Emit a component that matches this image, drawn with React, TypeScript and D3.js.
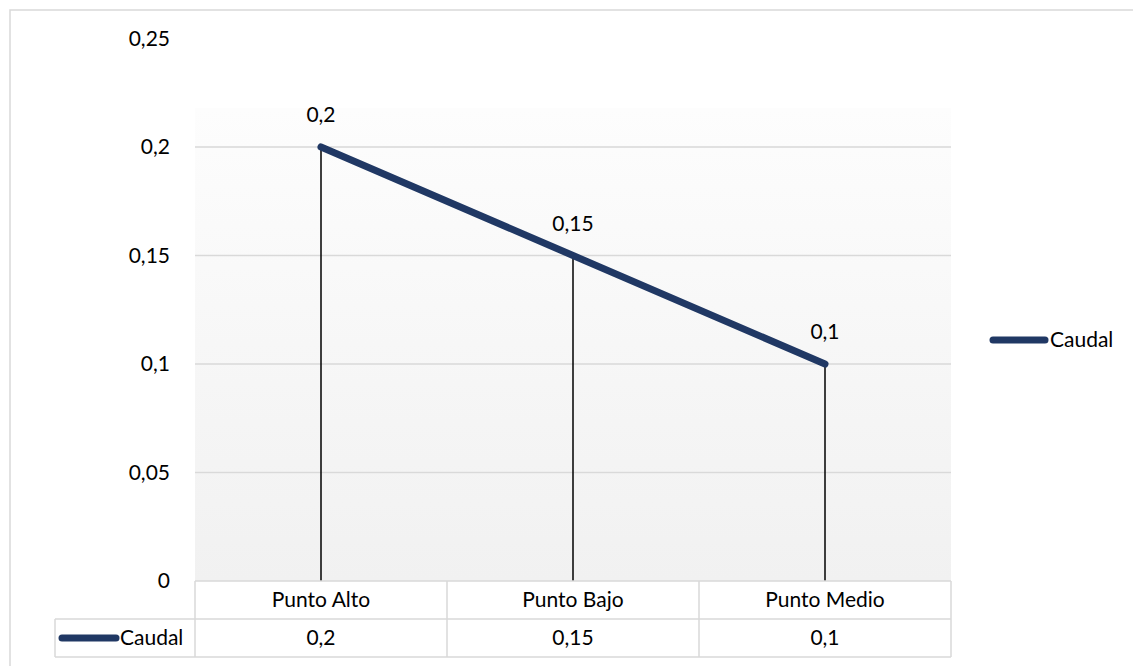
import React from "react";
import * as d3 from "d3";

// Series data
const categories: string[] = ["Punto Alto", "Punto Bajo", "Punto Medio"];
const caudal: number[] = [0.2, 0.15, 0.1];
const seriesName = "Caudal";
const yTicks: number[] = [0, 0.05, 0.1, 0.15, 0.2, 0.25];

const W = 1133;
const H = 666;
const FONT = "Lato, 'Open Sans', sans-serif";
const FS = 21;
const LINE_COLOR = "#203864";
const GRID = "#d9d9d9";

const fmt = (v: number) => String(v).replace(".", ",");

export default function App() {
  // Plot geometry
  const plotLeft = 195;
  const plotRight = 951;
  const plotTop = 108;
  const plotBottom = 581;
  const row1Bottom = 619;
  const row2Bottom = 657;
  const keyLeft = 55;

  const x = d3
    .scaleBand<string>()
    .domain(categories)
    .range([plotLeft, plotRight])
    .padding(0);
  const y = d3.scaleLinear().domain([0, 0.25]).range([plotBottom, 38.5]);

  const cx = (c: string) => (x(c) as number) + x.bandwidth() / 2;
  const pts: [number, number][] = categories.map((c, i) => [cx(c), y(caudal[i])]);
  const line = d3.line<[number, number]>()(pts) as string;

  const colEdges = [plotLeft, ...categories.map((c) => (x(c) as number) + x.bandwidth())];

  return (
    <svg
      width={W}
      height={H}
      style={{ position: "fixed", left: 0, top: 0, display: "block" }}
      fontFamily={FONT}
    >
      <defs>
        <linearGradient id="plotBg" x1="0" y1="0" x2="0" y2="1">
          <stop offset="0" stopColor="#fdfdfd" />
          <stop offset="1" stopColor="#f1f1f1" />
        </linearGradient>
      </defs>
      <rect x={0} y={0} width={W} height={H} fill="#ffffff" />
      {/* chart border */}
      <rect x={10} y={10} width={W + 20} height={H + 20} fill="none" stroke={GRID} strokeWidth={1.5} />

      {/* plot area */}
      <rect
        x={plotLeft}
        y={plotTop}
        width={plotRight - plotLeft}
        height={plotBottom - plotTop}
        fill="url(#plotBg)"
      />

      {/* gridlines */}
      {yTicks
        .filter((t) => t > 0 && y(t) >= plotTop)
        .map((t) => (
          <line
            key={`g${t}`}
            x1={plotLeft}
            x2={plotRight}
            y1={y(t)}
            y2={y(t)}
            stroke={GRID}
            strokeWidth={1.5}
          />
        ))}

      {/* y axis labels */}
      {yTicks.map((t) => (
        <text
          key={`t${t}`}
          x={170}
          y={y(t)}
          dy="0.35em"
          textAnchor="end"
          fontSize={FS}
          fill="#000"
        >
          {fmt(t)}
        </text>
      ))}

      {/* drop lines */}
      {pts.map(([px, py], i) => (
        <line key={`d${i}`} x1={px} x2={px} y1={py} y2={plotBottom} stroke="#000" strokeWidth={1.5} />
      ))}

      {/* series line */}
      <path
        d={line}
        fill="none"
        stroke={LINE_COLOR}
        strokeWidth={7}
        strokeLinecap="round"
        strokeLinejoin="round"
      />

      {/* data labels */}
      {pts.map(([px, py], i) => (
        <text
          key={`l${i}`}
          x={px}
          y={py - 32}
          dy="0.35em"
          textAnchor="middle"
          fontSize={FS}
          fill="#000"
        >
          {fmt(caudal[i])}
        </text>
      ))}

      {/* data table */}
      <g stroke={GRID} strokeWidth={1.5} fill="none">
        <line x1={plotLeft} x2={plotRight} y1={plotBottom} y2={plotBottom} />
        <line x1={keyLeft} x2={plotRight} y1={row1Bottom} y2={row1Bottom} />
        <line x1={keyLeft} x2={plotRight} y1={row2Bottom} y2={row2Bottom} />
        <line x1={keyLeft} x2={keyLeft} y1={row1Bottom} y2={row2Bottom} />
        {colEdges.map((ex, i) => (
          <line key={`c${i}`} x1={ex} x2={ex} y1={plotBottom} y2={row2Bottom} />
        ))}
      </g>
      {categories.map((c, i) => (
        <g key={`r${i}`}>
          <text x={cx(c)} y={(plotBottom + row1Bottom) / 2} dy="0.35em" textAnchor="middle" fontSize={FS}>
            {c}
          </text>
          <text x={cx(c)} y={(row1Bottom + row2Bottom) / 2} dy="0.35em" textAnchor="middle" fontSize={FS}>
            {fmt(caudal[i])}
          </text>
        </g>
      ))}
      {/* table legend key */}
      <line
        x1={62}
        x2={116}
        y1={(row1Bottom + row2Bottom) / 2}
        y2={(row1Bottom + row2Bottom) / 2}
        stroke={LINE_COLOR}
        strokeWidth={7}
        strokeLinecap="round"
      />
      <text x={120} y={(row1Bottom + row2Bottom) / 2} dy="0.35em" fontSize={FS}>
        {seriesName}
      </text>

      {/* legend */}
      <line x1={993} x2={1045} y1={340} y2={340} stroke={LINE_COLOR} strokeWidth={7} strokeLinecap="round" />
      <text x={1050} y={340} dy="0.35em" fontSize={FS}>
        {seriesName}
      </text>
    </svg>
  );
}
